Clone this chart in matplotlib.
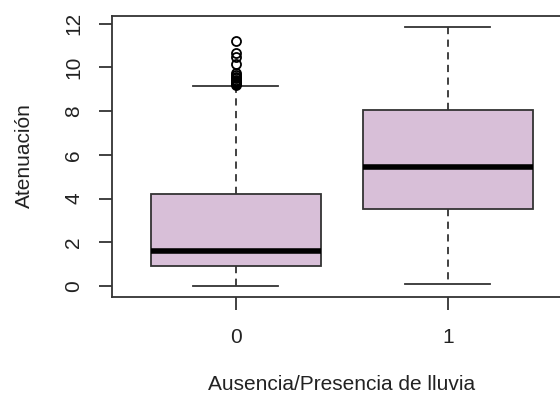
import matplotlib
matplotlib.use("Agg")
import matplotlib.pyplot as plt

plt.rcParams['font.family'] = ['Liberation Sans', 'DejaVu Sans']

# Data
categories = ["0", "1"]
q1 = [0.92, 3.52]
medians = [1.60, 5.46]
q3 = [4.22, 8.05]
whisker_low = [0.0, 0.10]
whisker_high = [9.15, 11.87]
outliers_0 = [11.2, 10.65, 10.5, 10.15, 9.75, 9.65, 9.55, 9.5, 9.45, 9.4, 9.35, 9.3, 9.25, 9.2]
outliers_1 = []
y_ticks = [0, 2, 4, 6, 8, 10, 12]

fliers = [outliers_0, outliers_1]
stats = []
for i, lab in enumerate(categories):
    stats.append(dict(label=lab, q1=q1[i], med=medians[i], q3=q3[i],
                      whislo=whisker_low[i], whishi=whisker_high[i], fliers=fliers[i]))

fig = plt.figure(figsize=(5.6, 4.0), dpi=100)
ax = fig.add_axes([112.3 / 560, 1 - 296.7 / 400, (570.7 - 112.3) / 560, (296.7 - 15.7) / 400])

lw = 1.3
ax.bxp(stats, positions=[1, 2], widths=0.8, patch_artist=True,
       boxprops=dict(facecolor='#D8BFD8', edgecolor='#333333', linewidth=lw),
       medianprops=dict(color='black', linewidth=4),
       whiskerprops=dict(color='#333333', linewidth=lw, linestyle=(0, (4, 3))),
       capprops=dict(color='#333333', linewidth=lw),
       capwidths=0.4,
       flierprops=dict(marker='o', markerfacecolor='none', markeredgecolor='black',
                       markersize=6.5, markeredgewidth=1.3))

ax.set_xlim(0.418, 2.58)
ax.set_ylim(-0.49, 12.37)
ax.set_yticks(y_ticks)
ax.set_yticklabels([str(t) for t in y_ticks], rotation=90, va='center')
ax.set_xticks([1, 2])
ax.set_xticklabels(categories)

for s in ax.spines.values():
    s.set_linewidth(lw)
    s.set_color('#333333')

ax.tick_params(axis='both', length=9.4, width=lw, color='#333333', labelsize=15, labelcolor='#222222')
ax.tick_params(axis='y', pad=11.5)
ax.tick_params(axis='x', pad=13)

ax.set_xlabel("Ausencia/Presencia de lluvia", fontsize=15, color='#222222')
ax.xaxis.set_label_coords(0.5, (296.7 - 384) / 281)
ax.xaxis.label.set_va('center')
ax.set_ylabel("Atenuación", fontsize=15, color='#222222')
ax.yaxis.set_label_coords((24 - 112.3) / 458.4, (296.7 - 156) / 281)
ax.yaxis.label.set_va('center')

fig.savefig("out.png", dpi=100)
